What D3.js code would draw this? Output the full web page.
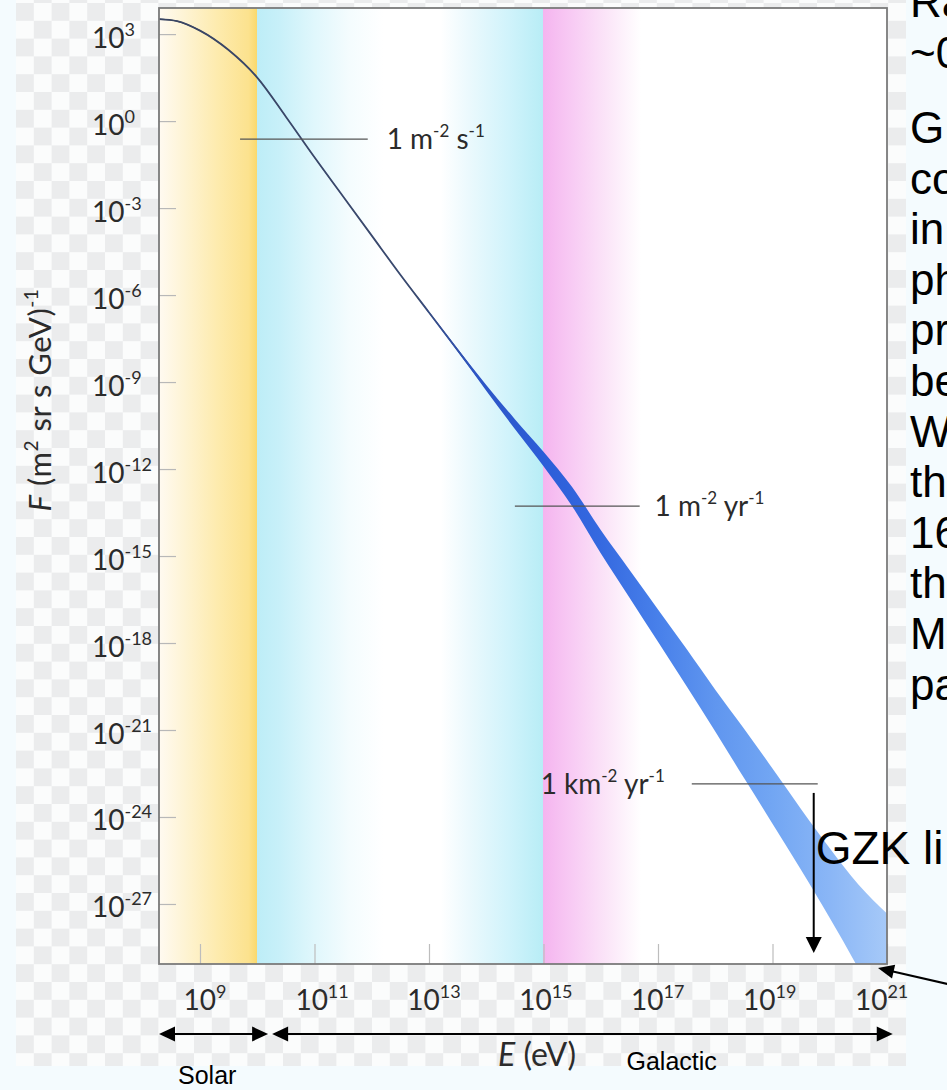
<!DOCTYPE html>
<html><head><meta charset="utf-8">
<script src="https://cdn.jsdelivr.net/npm/d3@7"></script>
<style>
html,body{margin:0;padding:0;overflow:hidden;background:#f4fbfe;}
svg{display:block}
</style></head><body>
<svg id="chart" width="947" height="1090"></svg>
<script>
// ---------------- data ----------------
const energyExp = [8.28, 8.6, 9.0, 9.5, 10.0, 10.5, 11.0, 11.5, 12.0, 12.5, 13.0, 13.5, 14.0, 14.5, 15.0, 15.5, 16.0, 16.5, 17.0, 17.5, 18.0, 18.5, 19.0, 19.5, 20.0, 20.5, 21.0];
const fluxExp   = [3.52, 3.45, 3.12, 2.45, 1.5, 0.15, -1.25, -2.6, -3.95, -5.3, -6.6, -7.9, -9.2, -10.45, -11.65, -12.95, -14.5, -15.95, -17.4, -18.85, -20.33, -21.8, -23.28, -24.78, -26.28, -27.78, -29.28];
const fluxHalfWidth = [0.02, 0.02, 0.02, 0.02, 0.02, 0.02, 0.02, 0.02, 0.02, 0.02, 0.03, 0.05, 0.1, 0.17, 0.25, 0.33, 0.4, 0.48, 0.56, 0.64, 0.72, 0.85, 0.95, 1.05, 1.2, 1.45, 1.95];
const yTickExps = [3, 0, -3, -6, -9, -12, -15, -18, -21, -24, -27];
const xTickExps = [9, 11, 13, 15, 17, 19, 21];
const xDomainExp = [8.284, 21];
const yDomainExp = [-29.07, 3.9];
// flux reference levels (energy range of the guide line, flux level, label)
const refLevels = [
  {e0: 9.7,  e1: 11.93, f: -0.62,  te: 12.26, unit: ['1 m', '-2', ' s', '-1']},
  {e0: 14.5, e1: 16.68, f: -13.28, te: 16.94, unit: ['1 m', '-2', ' yr', '-1']},
  {e0: 17.59, e1: 19.79, f: -22.86, te: 14.95, unit: ['1 km', '-2', ' yr', '-1']}
];
const regions = [
  {name: 'Solar', from: 8.284, to: 10.19},
  {name: 'Galactic', from: 10.26, to: 21.1}
];
const gzkExp = 19.72;
const gzkTopFlux = -23.17;
const rightText = ['Ra', '~0', 'G', 'co', 'in', 'ph', 'pr', 'be', 'W', 'th', '16', 'th', 'M', 'pa'];

// ---------------- layout ----------------
const P = {left: 159, right: 887, top: 8, bottom: 964};
const svg = d3.select('#chart');
const defs = svg.append('defs');
const x = d3.scaleLog().domain(xDomainExp.map(e => Math.pow(10, e))).range([P.left, P.right]);
const y = d3.scaleLog().domain(yDomainExp.map(e => Math.pow(10, e))).range([P.bottom, P.top]);
const X = e => x(Math.pow(10, e));
const Y = f => y(Math.pow(10, f));
const tickFont = 'Lato, "Open Sans", sans-serif';
const arial = '"Liberation Sans", Arial, sans-serif';

// background + checkerboard (transparent-png look)
svg.append('rect').attr('width', 947).attr('height', 1090).attr('fill', '#f4fbfe');
const pat = defs.append('pattern').attr('id', 'checker').attr('patternUnits', 'userSpaceOnUse')
  .attr('x', 16).attr('y', 3).attr('width', 35.6).attr('height', 35.6);
pat.append('rect').attr('width', 35.6).attr('height', 35.6).attr('fill', '#fbfcfc');
pat.append('rect').attr('width', 17.8).attr('height', 17.8).attr('fill', '#ebeced');
pat.append('rect').attr('x', 17.8).attr('y', 17.8).attr('width', 17.8).attr('height', 17.8).attr('fill', '#ebeced');
svg.append('rect').attr('x', 16).attr('y', 0).attr('width', 890).attr('height', 1066).attr('fill', 'url(#checker)');

// energy-region colour stripes
const bgStops = [
  [8.284, '#fffaf1'], [8.7, '#fef4d6'], [9.3, '#fdebae'], [9.85, '#fce28e'], [9.99, '#fad96e'],
  [10.0, '#bdedf7'], [10.4, '#c8f0f9'], [11.0, '#e0f7fc'], [11.6, '#f4fcfe'], [12.2, '#ffffff'],
  [13.2, '#ffffff'], [13.7, '#ebf9fd'], [14.4, '#d0f3fb'], [14.99, '#b8edf6'],
  [15.0, '#f5b5ef'], [15.5, '#f8cbf4'], [16.1, '#fbe5f8'], [16.7, '#ffffff'], [21, '#ffffff']
];
const bg = defs.append('linearGradient').attr('id', 'bgGrad').attr('gradientUnits', 'userSpaceOnUse')
  .attr('x1', P.left).attr('x2', P.right).attr('y1', 0).attr('y2', 0);
bgStops.forEach(([e, c]) => bg.append('stop').attr('offset', (X(e) - P.left) / (P.right - P.left)).attr('stop-color', c));
svg.append('rect').attr('x', P.left).attr('y', P.top).attr('width', P.right - P.left).attr('height', P.bottom - P.top)
  .attr('fill', 'url(#bgGrad)');

defs.append('clipPath').attr('id', 'plotClip').append('rect')
  .attr('x', P.left).attr('y', P.top).attr('width', P.right - P.left).attr('height', P.bottom - P.top);

// ticks
const yAxis = svg.append('g').attr('transform', `translate(${P.left},0)`)
  .call(d3.axisLeft(y).tickValues(yTickExps.map(e => Math.pow(10, e))).tickSize(-17).tickFormat(() => ''));
yAxis.select('.domain').remove();
yAxis.selectAll('line').attr('stroke', '#b8b8b8').attr('stroke-width', 1.2);
yAxis.selectAll('.tick text').each(function(d, i) {
  const t = d3.select(this).text(null).attr('x', 92 - P.left).attr('dy', null).attr('y', 13)
    .attr('text-anchor', 'start').attr('font-family', tickFont).attr('font-size', 28).attr('fill', '#2b2b2b');
  t.append('tspan').text('10');
  t.append('tspan').attr('font-size', 18).attr('dy', -12).text(String(yTickExps[i]));
});

const xAxis = svg.append('g').attr('transform', `translate(0,${P.bottom})`)
  .call(d3.axisBottom(x).tickValues(xTickExps.map(e => Math.pow(10, e))).tickSize(-20).tickFormat(() => ''));
xAxis.select('.domain').remove();
xAxis.selectAll('line').attr('stroke', '#bdbdbd').attr('stroke-width', 1.2);
xAxis.selectAll('.tick text').each(function(d, i) {
  const e = xTickExps[i];
  const t = d3.select(this).text(null).attr('dy', null).attr('y', 46).attr('x', -17 - (e - 9) * 1.3)
    .attr('text-anchor', 'start').attr('font-family', tickFont).attr('font-size', 28).attr('fill', '#2b2b2b');
  t.append('tspan').text('10');
  t.append('tspan').attr('font-size', 18).attr('dy', -12).text(String(e));
});

// spectrum band
const pts = energyExp.map((e, i) => ({e, f: fluxExp[i], h: fluxHalfWidth[i]}));
const bandGrad = defs.append('linearGradient').attr('id', 'bandGrad').attr('gradientUnits', 'userSpaceOnUse')
  .attr('x1', P.left).attr('x2', P.right).attr('y1', 0).attr('y2', 0);
[[8.284, '#3a4562'], [12.8, '#3a4a70'], [13.8, '#2d55c4'], [15.0, '#2c5dd8'], [16.0, '#3569e0'], [17.0, '#4880ea'],
 [18.0, '#6096ef'], [19.0, '#72a6f3'], [20.0, '#8ab6f6'], [21.0, '#a6c9f8']]
  .forEach(([e, c]) => bandGrad.append('stop').attr('offset', (X(e) - P.left) / (P.right - P.left)).attr('stop-color', c));
const g = svg.append('g').attr('clip-path', 'url(#plotClip)');
g.append('path').datum(pts)
  .attr('d', d3.area().x(d => X(d.e)).y0(d => Y(d.f - d.h)).y1(d => Y(d.f + d.h)).curve(d3.curveMonotoneX))
  .attr('fill', 'url(#bandGrad)');
g.append('path').datum(pts.filter(d => d.e <= 14.5))
  .attr('d', d3.line().x(d => X(d.e)).y(d => Y(d.f)).curve(d3.curveMonotoneX))
  .attr('fill', 'none').attr('stroke', 'url(#bandGrad)').attr('stroke-width', 1.8);

// frame
svg.append('rect').attr('x', P.left).attr('y', P.top).attr('width', P.right - P.left).attr('height', P.bottom - P.top)
  .attr('fill', 'none').attr('stroke', '#7a7a7a').attr('stroke-width', 1.8);

// reference flux levels
refLevels.forEach(r => {
  svg.append('line').attr('x1', X(r.e0)).attr('x2', X(r.e1)).attr('y1', Y(r.f)).attr('y2', Y(r.f))
    .attr('stroke', '#555').attr('stroke-width', 1.3);
  const t = svg.append('text').attr('x', X(r.te)).attr('y', Y(r.f) + 10)
    .attr('font-family', tickFont).attr('font-size', 28).attr('fill', '#2b2b2b');
  t.append('tspan').text(r.unit[0]);
  t.append('tspan').attr('font-size', 17).attr('dy', -12).text(r.unit[1]);
  t.append('tspan').attr('dy', 12).text(r.unit[2]);
  t.append('tspan').attr('font-size', 17).attr('dy', -12).text(r.unit[3]);
});

// axis titles
const yt = svg.append('text').attr('transform', 'translate(51,400) rotate(-90)').attr('text-anchor', 'middle')
  .attr('font-family', tickFont).attr('font-size', 31).attr('fill', '#2b2b2b').attr('letter-spacing', 0.5);
yt.append('tspan').attr('font-style', 'italic').text('F');
yt.append('tspan').text(' (m');
yt.append('tspan').attr('font-size', 19).attr('dy', -13).text('2');
yt.append('tspan').attr('dy', 13).text(' sr s GeV)');
yt.append('tspan').attr('font-size', 19).attr('dy', -13).text('-1');

const xt = svg.append('text').attr('x', 537).attr('y', 1066).attr('text-anchor', 'middle')
  .attr('font-family', tickFont).attr('font-size', 32).attr('fill', '#2b2b2b');
xt.append('tspan').attr('font-style', 'italic').text('E');
xt.append('tspan').text(' (eV)');

// arrows
function head(tx, ty, ang, len = 16, half = 7.5) {
  const c = Math.cos(ang), s = Math.sin(ang);
  const bx = tx - len * c, by = ty - len * s;
  return `M${tx},${ty}L${bx - half * s},${by + half * c}L${bx + half * s},${by - half * c}Z`;
}
const arrowY = 1034;
regions.forEach(r => {
  const a = X(r.from), b = X(r.to);
  svg.append('line').attr('x1', a + 8).attr('x2', b - 8).attr('y1', arrowY).attr('y2', arrowY)
    .attr('stroke', '#000').attr('stroke-width', 2.2);
  svg.append('path').attr('d', head(a, arrowY, Math.PI)).attr('fill', '#000');
  svg.append('path').attr('d', head(b, arrowY, 0)).attr('fill', '#000');
});
svg.append('text').attr('x', X(regions[0].from) + 19).attr('y', 1084).attr('font-family', arial).attr('font-size', 25).text(regions[0].name);
svg.append('text').attr('x', X(16.45)).attr('y', 1070).attr('font-family', arial).attr('font-size', 25).text(regions[1].name);

// GZK
const gx = X(gzkExp);
svg.append('line').attr('x1', gx).attr('x2', gx).attr('y1', Y(gzkTopFlux)).attr('y2', P.bottom - 20)
  .attr('stroke', '#000').attr('stroke-width', 2);
svg.append('path').attr('d', head(gx, P.bottom - 11, Math.PI / 2, 16, 8)).attr('fill', '#000');
svg.append('text').attr('x', gx + 2).attr('y', 864).attr('font-family', arial).attr('font-size', 46).text('GZK li');

// pointer to the 10^21 corner
const tipX = X(21) - 9, tipY = P.bottom + 4;
const ang = Math.atan2(tipY - 988, tipX - 965);
svg.append('line').attr('x1', 965).attr('y1', 988).attr('x2', tipX - 12 * Math.cos(ang)).attr('y2', tipY - 12 * Math.sin(ang))
  .attr('stroke', '#000').attr('stroke-width', 2);
svg.append('path').attr('d', head(tipX, tipY, ang, 16, 7)).attr('fill', '#000');

// right-hand text column (cut off by the page edge, as in the reference)
svg.append('g').selectAll('text').data(rightText).join('text')
  .attr('x', 910).attr('y', (d, i) => i < 2 ? 17 + i * 50.6 : 143 + (i - 2) * 50.6)
  .attr('font-family', arial).attr('font-size', 44).attr('fill', '#000').text(d => d);
</script>
</body></html>
